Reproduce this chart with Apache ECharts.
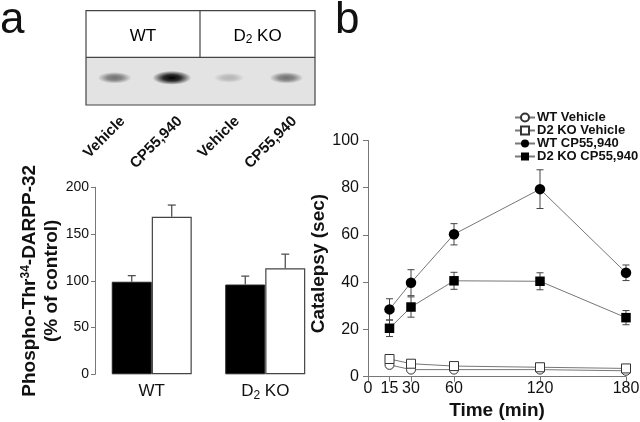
<!DOCTYPE html>
<html><head><meta charset="utf-8">
<script src="https://cdn.jsdelivr.net/npm/echarts@6/dist/echarts.min.js"></script>
<style>html,body{margin:0;padding:0;background:#fff}#c{width:640px;height:422px}</style>
</head><body><div id="c"></div>
<script>
// ---- data ----
const laneLabels = ['Vehicle', 'CP55,940', 'Vehicle', 'CP55,940'];
const bandIntensity = [0.5, 1.0, 0.2, 0.5];
const groups = ['WT', 'D2 KO'];
const vehicleMean = [99, 96];
const vehicleSem = [6.5, 9];
const cpMean = [168.5, 113.5];
const cpSem = [12.5, 15];
const barTicks = [0, 50, 100, 150, 200];
const times = [15, 30, 60, 120, 180];
const timeTicks = [0, 15, 30, 60, 120, 180];
const wtVehicle = [5, 3, 3, 3, 2.5];
const wtVehicleSem = [1.2, 0.8, 0.8, 0.6, 0.6];
const koVehicle = [7.5, 5.5, 4.5, 4, 3.5];
const koVehicleSem = [1.5, 1, 0.8, 0.8, 0.8];
const wtCP = [28.5, 39.8, 60.3, 79.4, 44];
const wtCPSem = [4.5, 5.5, 4.5, 8.2, 3.3];
const koCP = [20.5, 29.5, 40.6, 40.4, 25];
const koCPSem = [3.5, 4.3, 3.6, 3.6, 3];

// ---- style ----
const FONT = '"Liberation Sans", Arial, sans-serif';
const AX = '#777';
const BAR_W = 40;
const chart = echarts.init(document.getElementById('c'), null, {renderer: 'canvas'});

function barErr(offset) {
  return function (params, api) {
    const top = api.coord([api.value(0), api.value(1) + api.value(2)]);
    const base = api.coord([api.value(0), api.value(1)]);
    const x = base[0] + offset;
    const st = {stroke: '#444', lineWidth: 1.2};
    return {type: 'group', children: [
      {type: 'line', shape: {x1: x, y1: base[1], x2: x, y2: top[1]}, style: st},
      {type: 'line', shape: {x1: x - 4, y1: top[1], x2: x + 4, y2: top[1]}, style: st}
    ]};
  };
}
function lineErr(params, api) {
  const hi = api.coord([api.value(0), api.value(1) + api.value(2)]);
  const lo = api.coord([api.value(0), api.value(1) - api.value(2)]);
  const st = {stroke: '#444', lineWidth: 1};
  return {type: 'group', children: [
    {type: 'line', shape: {x1: hi[0], y1: hi[1], x2: lo[0], y2: lo[1]}, style: st},
    {type: 'line', shape: {x1: hi[0] - 3.5, y1: hi[1], x2: hi[0] + 3.5, y2: hi[1]}, style: st},
    {type: 'line', shape: {x1: lo[0] - 3.5, y1: lo[1], x2: lo[0] + 3.5, y2: lo[1]}, style: st}
  ]};
}
const pairs = (xs, ys) => xs.map((x, i) => [x, ys[i]]);
const errs = (xs, ys, es) => xs.map((x, i) => [x, ys[i], es[i]]);

const subRich = {
  n: {fontSize: 17, fontFamily: FONT, color: '#111', lineHeight: 20},
  s: {fontSize: 12, fontFamily: FONT, color: '#111', lineHeight: 12, verticalAlign: 'bottom'}
};
const subFmt = v => v === 'D2 KO' ? '{n|D}{s|2}{n| KO}' : '{n|' + v + '}';

const option = {
  animation: false,
  backgroundColor: '#fff',
  textStyle: {fontFamily: FONT},
  grid: [
    {left: 86, top: 57.3, width: 229, height: 47.7, show: true, backgroundColor: '#e3e3e3', borderWidth: 0, outerBoundsMode: 'none'},
    {left: 94, top: 57.3, width: 229, height: 47.7, outerBoundsMode: 'none'},
    {left: 95, top: 187.3, width: 227, height: 187, outerBoundsMode: 'none'},
    {left: 368, top: 140.5, width: 258, height: 236.2, outerBoundsMode: 'none'}
  ],
  xAxis: [
    {gridIndex: 0, type: 'category', data: laneLabels, show: false},
    {gridIndex: 1, type: 'category', data: laneLabels, show: false},
    {gridIndex: 2, type: 'category', data: groups, axisLine: {show: false}, axisTick: {show: false},
      axisLabel: {margin: 7, interval: 0, formatter: subFmt, rich: subRich}},
    {gridIndex: 3, type: 'value', min: 0, max: 180, splitLine: {show: false},
      axisLine: {show: true, lineStyle: {color: AX, width: 1}},
      axisTick: {show: true, length: 5, customValues: timeTicks, lineStyle: {color: AX}},
      axisLabel: {customValues: timeTicks, margin: 4, fontSize: 16, color: '#111', fontFamily: FONT, hideOverlap: false},
      name: 'Time (min)', nameLocation: 'middle', nameGap: 11,
      nameTextStyle: {fontSize: 19, fontWeight: 'bold', color: '#111', fontFamily: FONT}}
  ],
  yAxis: [
    {gridIndex: 0, type: 'value', min: 0, max: 1, show: false},
    {gridIndex: 1, type: 'value', min: 0, max: 1, show: false},
    {gridIndex: 2, type: 'value', min: 0, max: 200, interval: 50, splitLine: {show: false},
      axisLine: {show: true, lineStyle: {color: AX, width: 1}},
      axisTick: {show: true, length: 4, lineStyle: {color: AX}},
      axisLabel: {margin: 6, fontSize: 14, color: '#111', fontFamily: FONT},
      name: '{b|Phospho-Thr}{sup|34}{b|-DARPP-32}\n{b|(% of control)}',
      nameLocation: 'middle', nameGap: 28,
      nameTextStyle: {rich: {
        b: {fontSize: 19, fontWeight: 'bold', color: '#111', fontFamily: FONT, lineHeight: 22},
        sup: {fontSize: 12, fontWeight: 'bold', color: '#111', fontFamily: FONT, lineHeight: 22, verticalAlign: 'top'}
      }}},
    {gridIndex: 3, type: 'value', min: 0, max: 100, interval: 20, splitLine: {show: false},
      axisLine: {show: true, lineStyle: {color: AX, width: 1}},
      axisTick: {show: true, length: 5, lineStyle: {color: AX}},
      axisLabel: {margin: 9, fontSize: 16, color: '#111', fontFamily: FONT},
      name: 'Catalepsy (sec)', nameLocation: 'middle', nameGap: 29,
      nameTextStyle: {fontSize: 19, fontWeight: 'bold', color: '#111', fontFamily: FONT, padding: [0, 0, 0, -10]}}
  ],
  legend: {
    data: ['WT Vehicle', 'D2 KO Vehicle', 'WT CP55,940', 'D2 KO CP55,940'],
    orient: 'vertical', left: 514, top: 111, itemWidth: 20, itemHeight: 10, itemGap: 0, padding: 0,
    textStyle: {fontSize: 13, fontWeight: 'bold', color: '#111', fontFamily: FONT, lineHeight: 12.3, padding: [0, 0, 0, -3]},
    selectedMode: false
  },
  series: [
    {type: 'custom', xAxisIndex: 0, yAxisIndex: 0, silent: true,
      data: bandIntensity.map((v, i) => [i, v]),
      renderItem: function (params, api) {
        const v = api.value(1);
        const c = api.coord([api.value(0), 0.57]);
        const bw = api.size([1, 0])[0];
        const rx = bw * (0.25 + 0.09 * v), ry = 4.5 + 2.5 * v;
        return {type: 'circle', x: c[0], y: c[1], scaleY: ry / rx, shape: {cx: 0, cy: 0, r: rx},
          style: {fill: {type: 'radial', x: 0.5, y: 0.5, r: 0.5, colorStops: [
            {offset: 0, color: 'rgba(0,0,0,' + v + ')'},
            {offset: 0.45, color: 'rgba(0,0,0,' + (v * 0.8) + ')'},
            {offset: 1, color: 'rgba(0,0,0,0)'}]}}};
      }},
    {type: 'custom', xAxisIndex: 1, yAxisIndex: 1, silent: true,
      data: laneLabels.map((l, i) => [i, 0]),
      renderItem: function (params, api) {
        const c = api.coord([api.value(0), 0]);
        return {type: 'text', x: c[0], y: c[1] + 14, rotation: Math.PI / 4,
          style: {text: laneLabels[params.dataIndex], align: 'right', verticalAlign: 'middle',
            font: 'bold 15px ' + FONT, fill: '#111'}};
      }},
    {type: 'bar', name: 'Vehicle', xAxisIndex: 2, yAxisIndex: 2, data: vehicleMean, barWidth: BAR_W, barGap: '0%',
      itemStyle: {color: '#000', borderColor: '#222', borderWidth: 1}, silent: true, z: 2},
    {type: 'bar', name: 'CP55,940', xAxisIndex: 2, yAxisIndex: 2, data: cpMean, barWidth: BAR_W, barGap: '0%',
      itemStyle: {color: '#fff', borderColor: '#444', borderWidth: 1.2}, silent: true, z: 2},
    {type: 'custom', xAxisIndex: 2, yAxisIndex: 2, silent: true, z: 3,
      data: errs([0, 1], vehicleMean, vehicleSem), renderItem: barErr(-BAR_W / 2)},
    {type: 'custom', xAxisIndex: 2, yAxisIndex: 2, silent: true, z: 3,
      data: errs([0, 1], cpMean, cpSem), renderItem: barErr(BAR_W / 2)},
    {type: 'custom', xAxisIndex: 3, yAxisIndex: 3, silent: true, z: 1, data: errs(times, wtVehicle, wtVehicleSem), renderItem: lineErr},
    {type: 'custom', xAxisIndex: 3, yAxisIndex: 3, silent: true, z: 1, data: errs(times, koVehicle, koVehicleSem), renderItem: lineErr},
    {type: 'custom', xAxisIndex: 3, yAxisIndex: 3, silent: true, z: 1, data: errs(times, wtCP, wtCPSem), renderItem: lineErr},
    {type: 'custom', xAxisIndex: 3, yAxisIndex: 3, silent: true, z: 1, data: errs(times, koCP, koCPSem), renderItem: lineErr},
    {type: 'line', name: 'WT Vehicle', xAxisIndex: 3, yAxisIndex: 3, data: pairs(times, wtVehicle), z: 3,
      symbol: 'circle', symbolSize: 9, lineStyle: {color: '#777', width: 1},
      itemStyle: {color: '#fff', borderColor: '#333', borderWidth: 1}},
    {type: 'line', name: 'D2 KO Vehicle', xAxisIndex: 3, yAxisIndex: 3, data: pairs(times, koVehicle), z: 3,
      symbol: 'rect', symbolSize: 9, lineStyle: {color: '#777', width: 1},
      itemStyle: {color: '#fff', borderColor: '#333', borderWidth: 1}},
    {type: 'line', name: 'WT CP55,940', xAxisIndex: 3, yAxisIndex: 3, data: pairs(times, wtCP), z: 3,
      symbol: 'circle', symbolSize: 10.5, lineStyle: {color: '#777', width: 1},
      itemStyle: {color: '#000', borderColor: '#000', borderWidth: 0}},
    {type: 'line', name: 'D2 KO CP55,940', xAxisIndex: 3, yAxisIndex: 3, data: pairs(times, koCP), z: 3,
      symbol: 'rect', symbolSize: 9.5, lineStyle: {color: '#777', width: 1},
      itemStyle: {color: '#000', borderColor: '#000', borderWidth: 0}}
  ],
  graphic: [
    {type: 'text', left: 0, top: -1, style: {text: 'a', font: 'normal 44px ' + FONT, fill: '#111'}},
    {type: 'text', left: 335, top: -1, style: {text: 'b', font: 'normal 44px ' + FONT, fill: '#111'}},
    {type: 'rect', shape: {x: 86, y: 10.7, width: 229, height: 94.3}, style: {fill: 'none', stroke: '#444', lineWidth: 1.2}, z: 10},
    {type: 'line', shape: {x1: 86, y1: 57.3, x2: 315, y2: 57.3}, style: {stroke: '#444', lineWidth: 1.2}, z: 10},
    {type: 'line', shape: {x1: 200, y1: 10.7, x2: 200, y2: 57.3}, style: {stroke: '#444', lineWidth: 1.2}, z: 10},
    {type: 'text', x: 143, y: 36, style: {text: '{n|' + groups[0] + '}', rich: subRich, align: 'center', verticalAlign: 'middle'}, z: 10},
    {type: 'text', x: 257.5, y: 36, style: {text: subFmt(groups[1]), rich: subRich, align: 'center', verticalAlign: 'middle'}, z: 10}
  ]
};
chart.setOption(option);
</script>
</body></html>
